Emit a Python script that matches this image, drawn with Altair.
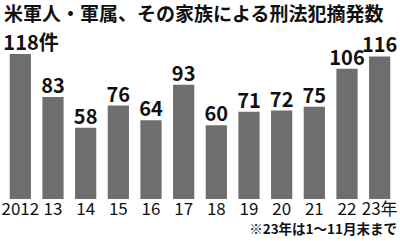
import altair as alt
import pandas as pd

years = ["2012", "13", "14", "15", "16", "17", "18", "19", "20", "21", "22", "23年"]
counts = [118, 83, 58, 76, 64, 93, 60, 71, 72, 75, 106, 116]
title_text = "米軍人・軍属、その家族による刑法犯摘発数"
note_text = "※23年は1～11月末まで"
unit = "件"

df = pd.DataFrame({"year": years, "count": counts})
df["label"] = df["count"].astype(str)

FONT = "Noto Sans CJK JP"
NARROW = "Liberation Sans Narrow, Noto Sans CJK JP"
BAR = "#6e6e6e"

x = alt.X("year:N", sort=years,
          scale=alt.Scale(paddingInner=0.35, paddingOuter=0.175),
          axis=alt.Axis(title=None, labelAngle=0, domain=False, ticks=False,
                        labelFont=NARROW, labelFontSize=17, labelColor="#111",
                        labelPadding=2))
y = alt.Y("count:Q", scale=alt.Scale(domain=[0, 118], nice=False, zero=True),
          axis=None)

bars = alt.Chart(df).mark_bar(color=BAR).encode(x=x, y=y)

labels = alt.Chart(df).transform_filter(alt.datum.year != "2012").mark_text(
    font=FONT, fontSize=20, fontWeight="bold", baseline="alphabetic", dy=-4, color="#111"
).encode(x=alt.X("year:N", sort=years), y="count:Q", text="label:N")

first = alt.Chart(df).transform_filter(alt.datum.year == "2012").transform_calculate(
    lab="datum.label + '" + unit + "'"
).mark_text(
    font=FONT, fontSize=20, fontWeight="bold", baseline="alphabetic", align="left",
    dx=-17, dy=-4, color="#111"
).encode(x=alt.X("year:N", sort=years), y="count:Q", text="lab:N")

title = alt.Chart(pd.DataFrame({"t": [title_text]})).mark_text(
    font=FONT, fontSize=19, fontWeight="bold", align="left", baseline="middle", color="#111"
).encode(x=alt.value(0), y=alt.value(-39), text="t:N")

note = alt.Chart(pd.DataFrame({"t": [note_text]})).mark_text(
    font=FONT, fontSize=13.5, fontWeight="bold", align="right", baseline="middle", color="#111"
).encode(x=alt.value(393), y=alt.value(176), text="t:N")

chart = alt.layer(bars, labels, first, title, note).properties(
    width=392, height=145,
    autosize=alt.AutoSizeParams(type="none"),
    padding={"left": 4, "top": 54, "right": 4, "bottom": 42},
    background="white",
).configure_view(stroke=None)

chart.save("out.html", embed_options={"renderer": "svg", "actions": False})
